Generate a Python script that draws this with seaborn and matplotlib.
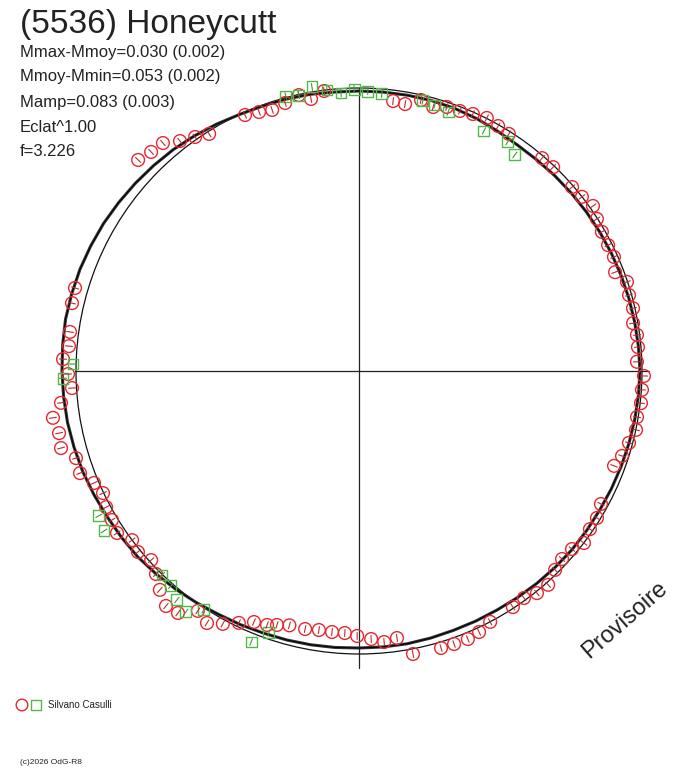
import numpy as np
import pandas as pd
import matplotlib
matplotlib.use("Agg")
import matplotlib.pyplot as plt
import seaborn as sns

# polar lightcurve: angle = rotational phase (deg), radius in plot units
R_REF = 283  # reference circle (mean magnitude)

red_ang = [1.9, 4.9, 7.4, 9.9, 12.9, 15.7, 18.4, 21.1, 24.1, 26.8, 29.8, 32.6, 35.2,
           38.0, 40.8, 46.4, 49.3, 57.7, 60.4, 63.2, 66.1, 68.8, 71.6, 74.3, 77.1,
           80.2, 82.8, 97.1, 100.0, 102.3, 105.4, 108.4, 111.1, 114.0, 122.3, 125.0,
           127.9, 130.7, 133.5, 136.3, 163.7, 166.7, 172.3, 175.1, 177.7, 180.6,
           183.4, 186.1, 188.7, 191.7, 194.5, 197.1, 200.1, 202.9, 205.5, 208.3,
           211.1, 213.8, 216.7, 219.3, 222.3, 225.0, 227.7, 230.6, 233.2, 236.1,
           238.9, 241.7, 244.5, 247.3, 250.1, 252.1, 254.7, 258.2, 261.2, 264.1,
           266.9, 269.6, 272.6, 275.3, 278.1, 280.8, 286.5, 289.2, 292.1, 294.7,
           297.6, 303.1, 306.0, 308.7, 311.5, 314.6, 317.2, 320.1, 322.6, 325.6,
           328.3, 331.2, 339.6, 342.1, 345.1, 348.0, 350.6, 353.5, 356.2, 359.0]
red_rad = [278.1, 280.0, 280.3, 278.2, 281.1, 280.5, 282.4, 274.5, 279.3, 279.1, 279.9,
           282.4, 286.3, 282.9, 281.5, 281.5, 280.8, 280.5, 281.7, 283.5, 281.1, 278.9,
           278.3, 274.2, 278.0, 270.9, 272.1, 282.2, 276.2, 282.4, 278.0, 275.1, 277.6,
           280.2, 280.5, 285.7, 291.4, 300.7, 302.0, 305.5, 295.9, 294.9, 291.6, 291.1,
           296.2, 291.0, 287.5, 299.7, 309.6, 306.3, 307.8, 296.1, 297.1, 287.7, 283.6,
           287.2, 288.5, 291.2, 283.0, 285.7, 281.0, 287.1, 295.9, 304.1, 302.2, 289.0,
           294.3, 287.2, 279.1, 272.1, 270.1, 266.9, 263.7, 263.6, 262.1, 262.4, 262.4,
           265.0, 268.3, 272.2, 269.7, 288.1, 288.9, 289.1, 289.3, 287.3, 283.1, 281.8,
           280.6, 284.6, 285.5, 279.3, 276.7, 277.6, 283.2, 279.9, 279.7, 276.1, 272.1,
           276.4, 279.4, 283.2, 281.8, 283.8, 283.6, 285.0]

green_ang = [104.9, 102.3, 99.4, 96.5, 93.7, 91.0, 88.2, 85.3, 76.7, 74.1, 71.0, 62.5,
             57.0, 54.2, 178.6, 181.4, 209.1, 212.1, 226.0, 228.8, 231.5, 234.3, 237.0,
             251.0, 248.3]
green_rad = [284.5, 282.4, 287.9, 282.8, 278.6, 282.0, 280.1, 278.0, 277.5, 276.6, 273.9,
             270.6, 273.2, 266.4, 286.1, 296.1, 297.7, 301.0, 283.6, 285.6, 292.5, 296.7,
             284.9, 277.0, 291.7]

# dense composite curve (black band), read every 5 deg
band_ang = list(range(0, 360, 5))
band_rad = [281, 280.5, 280, 279.5, 279, 278.5, 278, 277.5, 277, 276.5, 276, 276,
            277, 278.5, 279.5, 280, 280, 280, 280, 280, 281, 281.5, 282, 283,
            285, 287, 289, 290.5, 292, 293.5, 295, 296, 297, 297.5, 298, 297.5,
            297, 296.5, 296, 295, 294, 292.5, 291, 290, 289, 287, 285, 283,
            281, 280, 279, 278.5, 278, 277.5, 277, 277, 277, 276.5, 276, 276,
            276, 276.5, 277, 277.5, 278, 278, 278, 278.5, 279, 279.5, 280, 280.5]

title = "(5536) Honeycutt"
stats = ["Mmax-Mmoy=0.030 (0.002)", "Mmoy-Mmin=0.053 (0.002)", "Mamp=0.083 (0.003)",
         "Eclat^1.00", "f=3.226"]
observer = "Silvano Casulli"


def to_xy(ang, rad):
    a = np.deg2rad(np.asarray(ang, float))
    r = np.asarray(rad, float)
    return pd.DataFrame({"ang": a, "r": r, "x": r * np.cos(a), "y": r * np.sin(a)})


red = to_xy(red_ang, red_rad)
green = to_xy(green_ang, green_rad)
band = to_xy(band_ang + [band_ang[0]], band_rad + [band_rad[0]])

sns.set_style("white")
plt.rcParams["font.family"] = ["Liberation Sans", "DejaVu Sans"]

fig = plt.figure(figsize=(6.88, 7.68), dpi=100)
ax = fig.add_axes([0, 0, 1, 1])
ax.set_xlim(-359, 329)
ax.set_ylim(-397, 371)
ax.axis("off")

# axes through the centre
ax.plot([-284, 290], [0, 0], color="#222222", lw=0.9, zorder=1)
ax.plot([0, 0], [-297, 283], color="#222222", lw=0.9, zorder=1)

# reference circle
ax.add_patch(plt.Circle((0, 0), R_REF, fill=False, color="#111111", lw=0.9, zorder=2))

# composite curve
sns.lineplot(data=band, x="x", y="y", sort=False, estimator=None, color="#333333",
             lw=2.2, ax=ax, zorder=3)
sns.lineplot(data=band, x="x", y="y", sort=False, estimator=None, color="#000000",
             lw=0.7, ax=ax, zorder=3)


def radial_ticks(df, color, half=3.5):
    for a, r in zip(df["ang"], df["r"]):
        ax.plot([(r - half) * np.cos(a), (r + half) * np.cos(a)],
                [(r - half) * np.sin(a), (r + half) * np.sin(a)],
                color=color, lw=0.8, zorder=5)


sns.scatterplot(data=red, x="x", y="y", marker="o", s=84, facecolor="none",
                edgecolor="#e8262e", linewidth=1.0, ax=ax, zorder=4)
radial_ticks(red, "#c0282e")
sns.scatterplot(data=green, x="x", y="y", marker="s", s=62, facecolor="none",
                edgecolor="#52b848", linewidth=1.0, ax=ax, zorder=4)
radial_ticks(green, "#3f9a38")

# texts
fig.text(20 / 688, 1 - 25 / 768, title, fontsize=24, color="#222222", va="center", ha="left")
for i, s in enumerate(stats):
    fig.text(20 / 688, 1 - (52 + 25 * i) / 768, s, fontsize=12, color="#222222",
             va="center", ha="left")

fig.text(625 / 688, 1 - 620 / 768, "Provisoire", fontsize=17, color="#222222",
         rotation=41, ha="center", va="center")

# legend at bottom
ax.scatter([22 - 359], [371 - 705], s=70, marker="o", facecolor="none",
           edgecolor="#e8262e", lw=1.0)
ax.scatter([36 - 359], [371 - 705], s=50, marker="s", facecolor="none",
           edgecolor="#52b848", lw=1.0)
fig.text(48 / 688, 1 - 705 / 768, observer, fontsize=7, color="#222222", va="center")
fig.text(20 / 688, 1 - 762 / 768, "(c)2026 OdG-R8", fontsize=6, color="#222222",
         va="center")

fig.savefig("out.png", dpi=100)
